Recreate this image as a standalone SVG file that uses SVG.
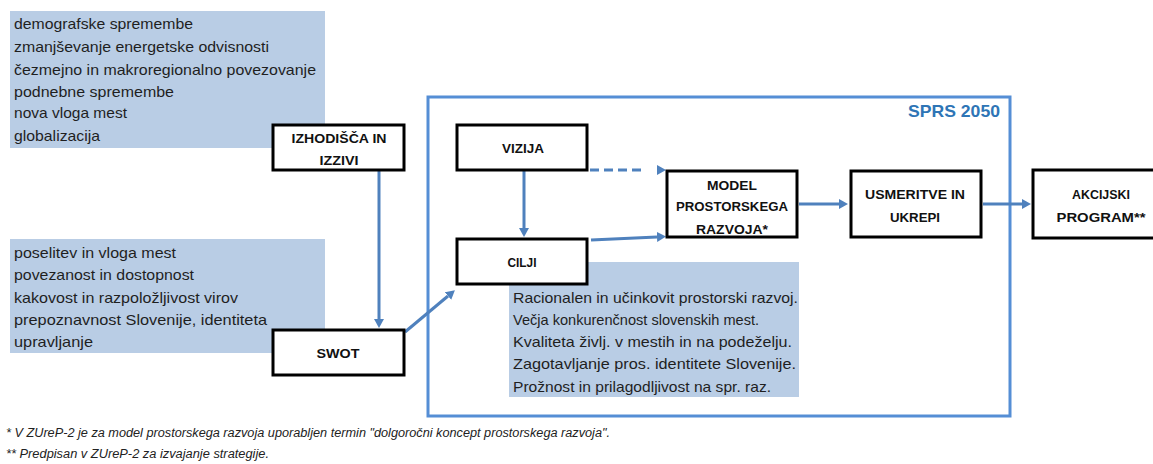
<svg xmlns="http://www.w3.org/2000/svg" width="1153" height="464" viewBox="0 0 1153 464">
<style>
.bg{fill:#b9cde5;stroke:none}
.nd{fill:#ffffff;stroke:#000000;stroke-width:3}
.t{font-family:"Liberation Sans",Arial,sans-serif;font-size:15px;fill:#1f1f1f}
.b{font-family:"Liberation Sans",Arial,sans-serif;font-size:13.5px;font-weight:bold;fill:#111111;text-anchor:middle}
.fn{font-family:"Liberation Sans",Arial,sans-serif;font-size:12px;font-style:italic;fill:#222222}
.c{stroke:#4f81bd;stroke-width:3;fill:none}
</style>
<defs>
<marker id="ah" viewBox="0 0 9 10" refX="0" refY="5" markerWidth="9" markerHeight="10" markerUnits="userSpaceOnUse" orient="auto">
<path d="M0,0 L9,5 L0,10 z" fill="#4f81bd"/>
</marker>
</defs>
<rect width="1153" height="464" fill="#ffffff"/>

<g id="frame-sprs">
<rect x="428" y="97" width="582" height="319" fill="none" stroke="#558ed5" stroke-width="3"/>
<text x="1000" y="117" font-family="'Liberation Sans',Arial,sans-serif" font-size="17" font-weight="bold" fill="#2e75b6" text-anchor="end" textLength="92" lengthAdjust="spacingAndGlyphs">SPRS 2050</text>
</g>

<g id="list-izzivi">
<rect class="bg" x="10" y="11" width="315" height="137"/>
<text class="t" x="14" y="29" textLength="179" lengthAdjust="spacingAndGlyphs">demografske spremembe</text>
<text class="t" x="14" y="52" textLength="255" lengthAdjust="spacingAndGlyphs">zmanjševanje energetske odvisnosti</text>
<text class="t" x="14" y="75" textLength="302" lengthAdjust="spacingAndGlyphs">čezmejno in makroregionalno povezovanje</text>
<text class="t" x="14" y="97" textLength="160" lengthAdjust="spacingAndGlyphs">podnebne spremembe</text>
<text class="t" x="14" y="118" textLength="113" lengthAdjust="spacingAndGlyphs">nova vloga mest</text>
<text class="t" x="14" y="141" textLength="86" lengthAdjust="spacingAndGlyphs">globalizacija</text>
</g>

<g id="list-swot">
<rect class="bg" x="10" y="239" width="315" height="114"/>
<text class="t" x="14" y="258" textLength="162" lengthAdjust="spacingAndGlyphs">poselitev in vloga mest</text>
<text class="t" x="14" y="280" textLength="180" lengthAdjust="spacingAndGlyphs">povezanost in dostopnost</text>
<text class="t" x="14" y="303" textLength="224" lengthAdjust="spacingAndGlyphs">kakovost in razpoložljivost virov</text>
<text class="t" x="14" y="325" textLength="253" lengthAdjust="spacingAndGlyphs">prepoznavnost Slovenije, identiteta</text>
<text class="t" x="14" y="347" textLength="79" lengthAdjust="spacingAndGlyphs">upravljanje</text>
</g>

<g id="list-cilji">
<rect class="bg" x="509" y="262" width="290" height="135"/>
<text class="t" x="513" y="303" textLength="285" lengthAdjust="spacingAndGlyphs">Racionalen in učinkovit prostorski razvoj.</text>
<text class="t" x="513" y="325" textLength="246" lengthAdjust="spacingAndGlyphs">Večja konkurenčnost slovenskih mest.</text>
<text class="t" x="513" y="347" textLength="279" lengthAdjust="spacingAndGlyphs">Kvaliteta življ. v mestih in na podeželju.</text>
<text class="t" x="513" y="369" textLength="283" lengthAdjust="spacingAndGlyphs">Zagotavljanje pros. identitete Slovenije.</text>
<text class="t" x="513" y="392" textLength="258" lengthAdjust="spacingAndGlyphs">Prožnost in prilagodljivost na spr. raz.</text>
</g>

<g id="connectors">
<line class="c" x1="379" y1="171" x2="379" y2="319" marker-end="url(#ah)"/>
<line class="c" x1="405" y1="332" x2="448" y2="296" marker-end="url(#ah)"/>
<line class="c" x1="524" y1="171" x2="524" y2="228" marker-end="url(#ah)"/>
<line class="c" x1="590" y1="170" x2="657" y2="170" stroke-dasharray="9 5 9 5 9 5 9 17" marker-end="url(#ah)"/>
<line class="c" x1="591" y1="240" x2="657" y2="237" marker-end="url(#ah)"/>
<line class="c" x1="799" y1="204" x2="839" y2="204" marker-end="url(#ah)"/>
<line class="c" x1="983" y1="204" x2="1022" y2="204" marker-end="url(#ah)"/>
</g>

<g id="node-izhodisca">
<rect class="nd" x="273" y="125" width="131" height="45"/>
<text class="b" x="339" y="143" textLength="95" lengthAdjust="spacingAndGlyphs">IZHODIŠČA IN</text>
<text class="b" x="339" y="165" textLength="39" lengthAdjust="spacingAndGlyphs">IZZIVI</text>
</g>

<g id="node-swot">
<rect class="nd" x="273" y="330" width="131" height="45"/>
<text class="b" x="338" y="358" textLength="43" lengthAdjust="spacingAndGlyphs">SWOT</text>
</g>

<g id="node-vizija">
<rect class="nd" x="457" y="125" width="130" height="45"/>
<text class="b" x="523" y="153" textLength="42" lengthAdjust="spacingAndGlyphs">VIZIJA</text>
</g>

<g id="node-cilji">
<rect class="nd" x="457" y="239" width="130" height="45"/>
<text class="b" x="522" y="267" textLength="29" lengthAdjust="spacingAndGlyphs">CILJI</text>
</g>

<g id="node-model">
<rect class="nd" x="667" y="171" width="130" height="66"/>
<text class="b" x="732" y="190" textLength="50" lengthAdjust="spacingAndGlyphs">MODEL</text>
<text class="b" x="732" y="211" textLength="112" lengthAdjust="spacingAndGlyphs">PROSTORSKEGA</text>
<text class="b" x="732" y="234" textLength="72" lengthAdjust="spacingAndGlyphs">RAZVOJA*</text>
</g>

<g id="node-usmeritve">
<rect class="nd" x="851" y="171" width="130" height="66"/>
<text class="b" x="915" y="199" textLength="100" lengthAdjust="spacingAndGlyphs">USMERITVE IN</text>
<text class="b" x="915" y="222" textLength="50" lengthAdjust="spacingAndGlyphs">UKREPI</text>
</g>

<g id="node-akcijski">
<rect class="nd" x="1033" y="170" width="140" height="68"/>
<text class="b" x="1101" y="199" textLength="58" lengthAdjust="spacingAndGlyphs">AKCIJSKI</text>
<text class="b" x="1101" y="222" textLength="89" lengthAdjust="spacingAndGlyphs">PROGRAM**</text>
</g>

<g id="footnotes">
<text class="fn" x="6" y="437" textLength="604" lengthAdjust="spacingAndGlyphs">* V ZUreP-2 je za model prostorskega razvoja uporabljen termin "dolgoročni koncept prostorskega razvoja".</text>
<text class="fn" x="6" y="458" textLength="263" lengthAdjust="spacingAndGlyphs">** Predpisan v ZUreP-2 za izvajanje strategije.</text>
</g>
</svg>
